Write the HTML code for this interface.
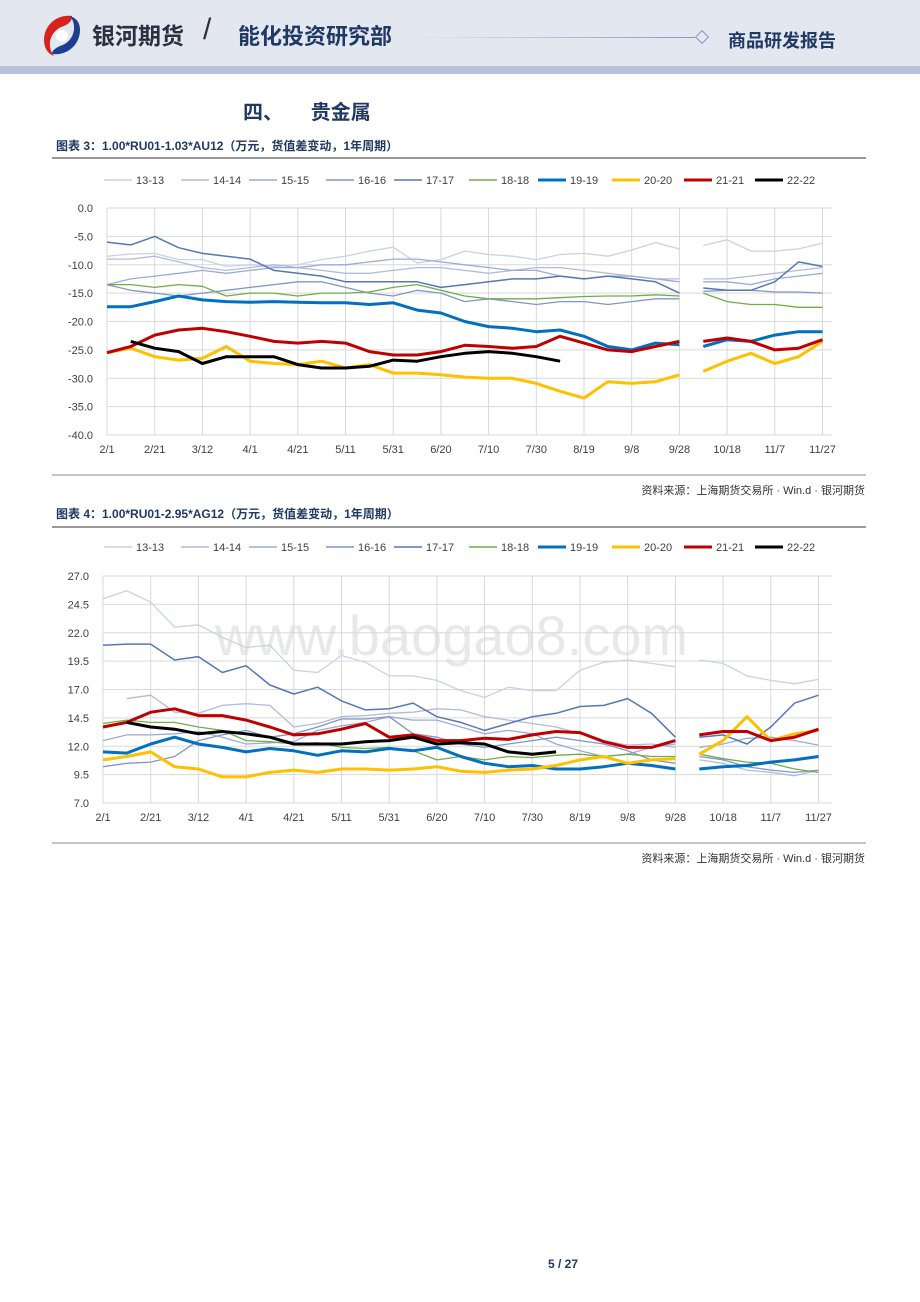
<!DOCTYPE html>
<html><head><meta charset="utf-8">
<style>
body{margin:0;background:#fff;font-family:"Liberation Sans","Noto Sans CJK SC",sans-serif;}
#page{position:relative;width:920px;height:1302px;overflow:hidden;background:#fff;}
.hdr{position:absolute;left:0;top:0;width:920px;height:66px;background:#e3e7f0;}
.stripe{position:absolute;left:0;top:66px;width:920px;height:8px;background:#b9c1dc;}
.t{position:absolute;white-space:nowrap;}
</style></head>
<body><div id="page">
<div class="hdr"></div>
<div class="stripe"></div>
<svg style="position:absolute;left:38px;top:12px" width="46" height="46">
<path d="M34 4 C18 2 6 14 6 28 C6 36 10 42 16 44 C8 34 12 18 26 14 C30 12 34 10 34 4Z" fill="#d7231f"/>
<path d="M14 42 C30 44 42 32 42 18 C42 10 38 6 32 4 C40 14 36 30 22 34 C18 36 14 38 14 42Z" fill="#1d3f8f"/>
<circle cx="24" cy="24" r="6" fill="#fff"/></svg>
<div class="t" style="left:92px;top:17px;font-size:23px;font-weight:bold;color:#2b3040">银河期货</div>
<div class="t" style="left:203px;top:13px;font-size:30px;color:#333">/</div>
<div class="t" style="left:238px;top:19px;font-size:22px;font-weight:bold;color:#1f3864">能化投资研究部</div>
<div style="position:absolute;left:415px;top:37px;width:280px;height:1px;background:linear-gradient(90deg,#e3e7f0,#8a97c8)"></div>
<div style="position:absolute;left:697px;top:32px;width:8px;height:8px;border:1px solid #8a97c8;transform:rotate(45deg)"></div>
<div class="t" style="left:728px;top:27px;font-size:18px;font-weight:bold;color:#1f3864">商品研发报告</div>
<div class="t" style="left:243px;top:96px;font-size:20px;font-weight:bold;color:#1f3864">四、&nbsp;&nbsp;&nbsp;&nbsp;&nbsp;贵金属</div>
<div class="t" style="left:56px;top:137px;font-size:12px;font-weight:bold;color:#1f3864">图表 3：1.00*RU01-1.03*AU12（万元，货值差变动，1年周期）</div>
<div class="t" style="left:56px;top:505px;font-size:12px;font-weight:bold;color:#1f3864">图表 4：1.00*RU01-2.95*AG12（万元，货值差变动，1年周期）</div>
<div class="t" style="right:55px;top:482px;font-size:11px;color:#333">资料来源：上海期货交易所 · Win.d · 银河期货</div>
<div class="t" style="right:55px;top:850px;font-size:11px;color:#333">资料来源：上海期货交易所 · Win.d · 银河期货</div>
<div class="t" style="left:548px;top:1257px;font-size:12px;font-weight:bold;color:#1f3864">5 / 27</div>
<svg id="c" width="920" height="1302" style="position:absolute;left:0;top:0"></svg>
</div>
<script>
const days=[0,10,20,30,40,50,60,70,80,90,100,110,120,130,140,150,160,170,180,190,200,210,220,230,240,245,250,260,270,280,290,300];
const xTickLabels=["2/1","2/21","3/12","4/1","4/21","5/11","5/31","6/20","7/10","7/30","8/19","9/8","9/28","10/18","11/7","11/27"];
const seriesNames=["13-13","14-14","15-15","16-16","17-17","18-18","19-19","20-20","21-21","22-22"];
const N=null;
// chart 1 (AU)
const a13=[-8.5,-8.1,-8,-9.1,-9.1,-10.3,-10,-10.3,-10,-9.1,-8.5,-7.6,-6.9,-9.7,-9.1,-7.6,-8.2,-8.5,-9.1,-8.2,-8,-8.5,-7.4,-6.1,-7.2,N,-6.6,-5.6,-7.6,-7.6,-7.2,-6.2];
const a14=[-9,-9,-8.5,-9.5,-10.5,-11,-10.5,-10,-10.5,-11,-11.5,-11.5,-11,-10.5,-10.5,-11,-11.5,-11,-10.5,-10.5,-11,-11.5,-12,-12.5,-12.5,N,-12.5,-12.5,-12,-11.5,-11,-10.5];
const a15=[-13.5,-12.5,-12,-11.5,-11,-11.5,-11,-10.5,-10.5,-10,-10,-9.5,-9,-9,-9.5,-10,-10.5,-11,-11,-12,-12.5,-12,-12,-12.5,-13,N,-13,-13,-13.5,-12.5,-12,-11.5];
const a16=[-13.5,-14.5,-15,-15.5,-15,-14.5,-14,-13.5,-13,-13,-14,-15,-15.5,-14.5,-15,-16.5,-16,-16.5,-17,-16.5,-16.5,-17,-16.5,-16,-16,N,-14.7,-14.5,-14.5,-14.8,-14.8,-15];
const a17=[-6,-6.5,-5,-7,-8,-8.5,-9,-11,-11.5,-12,-13,-13,-13,-13,-14,-13.5,-13,-12.5,-12.5,-12,-12.5,-12,-12.5,-13,-15,N,-14.1,-14.5,-14.5,-13,-9.5,-10.3];
const a18=[-13.5,-13.5,-14,-13.5,-13.8,-15.5,-15,-15,-15.5,-15,-15,-14.8,-14,-13.5,-14.5,-15.5,-16,-16,-16,-15.8,-15.6,-15.5,-15.5,-15.3,-15.5,N,-15,-16.5,-17,-17,-17.5,-17.5];
const a19=[-17.4,-17.4,-16.5,-15.5,-16.2,-16.5,-16.6,-16.5,-16.6,-16.7,-16.7,-17,-16.7,-18,-18.5,-20,-20.9,-21.2,-21.8,-21.5,-22.6,-24.4,-25,-23.8,-24.1,N,-24.4,-23.2,-23.5,-22.4,-21.8,-21.8];
const a20=[-25.5,-24.7,-26.2,-26.8,-26.5,-24.4,-27,-27.4,-27.6,-27,-28.2,-27.6,-29.1,-29.1,-29.4,-29.8,-30,-30,-30.9,-32.3,-33.5,-30.6,-30.9,-30.6,-29.4,N,-28.8,-27,-25.6,-27.4,-26.2,-23.5];
const a21=[-25.5,-24.4,-22.4,-21.5,-21.2,-21.8,-22.6,-23.5,-23.8,-23.5,-23.8,-25.3,-25.9,-25.9,-25.3,-24.2,-24.4,-24.7,-24.4,-22.6,-23.8,-25,-25.3,-24.4,-23.5,N,-23.5,-22.9,-23.5,-25,-24.7,-23.2];
const a22=[N,-23.5,-24.7,-25.3,-27.4,-26.2,-26.2,-26.2,-27.6,-28.2,-28.2,-27.9,-26.8,-27,-26.2,-25.6,-25.3,-25.6,-26.2,-27,N,N,N,N,N,N,N,N,N,N,N,N];
// chart 2 (AG)
const g13=[25,25.7,24.7,22.5,22.7,21.6,20.7,20.9,18.7,18.5,20,19.4,18.2,18.2,17.8,16.9,16.3,17.2,16.9,16.9,18.7,19.4,19.6,19.3,19,N,19.6,19.3,18.2,17.8,17.5,17.9];
const g14=[N,16.2,16.5,15,14.9,15.6,15.75,15.6,13.7,14,14.6,14.7,14.9,15,15.3,15.2,14.6,14.3,14,13.7,13.1,12.5,12.1,12.2,11.9,N,10.8,10.5,9.9,9.7,9.4,9.9];
const g15=[12.5,13,13,13.1,13.3,12.8,12.2,12.3,12.4,13.4,13.8,14.1,14.6,14.3,14.3,13.7,13.1,13.4,13.1,12.2,11.6,11.1,11.3,11.9,12.2,N,11.9,12.2,12.7,12.8,12.5,12.1];
const g16=[10.2,10.5,10.6,11.1,12.5,13,13.4,12.8,13.1,13.7,14.4,14.4,14.6,13.1,12.8,12.2,11.9,12.2,12.5,12.8,12.5,12.2,11.6,10.8,10.5,N,11.1,10.8,10.2,9.9,9.7,9.9];
const g17=[20.9,21,21,19.6,19.9,18.5,19.1,17.4,16.6,17.2,16,15.2,15.3,15.8,14.6,14.1,13.4,14,14.6,14.9,15.5,15.6,16.2,14.9,12.8,N,12.8,13,12.2,13.7,15.8,16.5];
const g18=[14,14.3,14.1,14.1,13.7,13.4,12.5,12.4,12.2,12.3,11.9,11.8,11.9,11.6,10.8,11.1,10.8,11.1,11,11.2,11.3,11.1,11.3,11.1,11.1,N,11.3,10.9,10.6,10.5,10,9.7];
const g19=[11.5,11.4,12.2,12.8,12.2,11.9,11.5,11.8,11.6,11.2,11.6,11.5,11.8,11.6,11.9,11.1,10.5,10.2,10.3,10,10,10.2,10.5,10.3,10,N,10,10.2,10.3,10.6,10.8,11.1];
const g20=[10.8,11.1,11.5,10.2,10,9.3,9.3,9.7,9.9,9.7,10,10,9.9,10,10.2,9.8,9.7,9.9,10,10.3,10.8,11.1,10.5,10.8,10.9,N,11.3,12.5,14.6,12.5,13.1,13.4];
const g21=[13.7,14.1,15,15.3,14.7,14.7,14.3,13.7,13,13.1,13.5,14,12.8,13,12.5,12.5,12.7,12.6,13,13.3,13.2,12.4,11.9,11.9,12.5,N,13,13.3,13.3,12.5,12.8,13.5];
const g22=[N,14.1,13.7,13.5,13.1,13.3,13.1,12.8,12.2,12.2,12.2,12.4,12.5,12.8,12.2,12.3,12.2,11.5,11.3,11.5,N,N,N,N,N,N,N,N,N,N,N,N];
const colors=["#c9d1e6","#b1bcdc","#9aabd5","#8096c9","#5577b8","#70ad47","#0070c0","#ffc000","#c00000","#000000"];
const widths=[1.3,1.3,1.3,1.3,1.5,1.3,3,3,3,3];
const svg=document.getElementById('c');
const NS="http://www.w3.org/2000/svg";
function mk(tag,at){const e=document.createElementNS(NS,tag);for(const k in at)e.setAttribute(k,at[k]);svg.appendChild(e);return e;}
function chart(cfg){
  const {x0,x1,yTop,yBot,vMax,vMin,step,dec,legY,series,tag}=cfg;
  const sx=d=>x0+d*(x1-x0)/300;
  const sy=v=>yTop+(vMax-v)/(vMax-vMin)*(yBot-yTop);
  for(let v=vMax;v>=vMin-1e-9;v-=step){
    const g=mk('line',{x1:x0,x2:832,y1:sy(v),y2:sy(v),stroke:'#d9d9d9','stroke-width':1});
    
    const t=mk('text',{x:x0-14,y:sy(v)+4,'text-anchor':'end','font-size':11,fill:'#404040','font-family':'Liberation Sans,sans-serif'});
    t.textContent=v.toFixed(dec);
    
  }
  xTickLabels.forEach((lab,i)=>{
    const x=sx(i*20);
    const g=mk('line',{x1:x,x2:x,y1:yTop,y2:yBot,stroke:'#d9d9d9','stroke-width':1});
    
    const t=mk('text',{x:x,y:yBot+18,'text-anchor':'middle','font-size':11,fill:'#404040','font-family':'Liberation Sans,sans-serif'});
    t.textContent=lab;
    
  });
  const lx=[104,181,249,326,394,469,538,612,684,755];
  seriesNames.forEach((nm,i)=>{
    const l=mk('line',{x1:lx[i],x2:lx[i]+28,y1:legY,y2:legY,stroke:colors[i],'stroke-width':widths[i]>2?3:1.5});
    
    const t=mk('text',{x:lx[i]+32,y:legY+4,'font-size':11,fill:'#404040','font-family':'Liberation Sans,sans-serif'});
    t.textContent=nm;
    
  });
  series.forEach((vals,i)=>{
    let d='',pen=false;
    vals.forEach((v,j)=>{
      if(v===null){pen=false;return;}
      d+=(pen?'L':'M')+sx(days[j]).toFixed(1)+' '+sy(v).toFixed(1);pen=true;
    });
    const p=mk('path',{d:d,fill:'none',stroke:colors[i],'stroke-width':widths[i],'stroke-linejoin':'round'});
    
  });
}
chart({x0:107,x1:822.5,yTop:208,yBot:435,vMax:0,vMin:-40,step:5,dec:1,legY:180,tag:'chart3',
  series:[a13,a14,a15,a16,a17,a18,a19,a20,a21,a22]});
const wm=mk('text',{x:215,y:655,'font-size':56,fill:'#000','fill-opacity':0.09,'font-family':'Liberation Sans,sans-serif'});
wm.textContent='www.baogao8.com';

chart({x0:103,x1:818.5,yTop:576,yBot:803,vMax:27,vMin:7,step:2.5,dec:1,legY:547,tag:'chart4',
  series:[g13,g14,g15,g16,g17,g18,g19,g20,g21,g22]});
[[158,'#333'],[475,'#888'],[527,'#333'],[843,'#888']].forEach(([y,c])=>{
  const l=mk('line',{x1:52,x2:866,y1:y,y2:y,stroke:c,'stroke-width':1});
  
});
</script>
</body></html>
